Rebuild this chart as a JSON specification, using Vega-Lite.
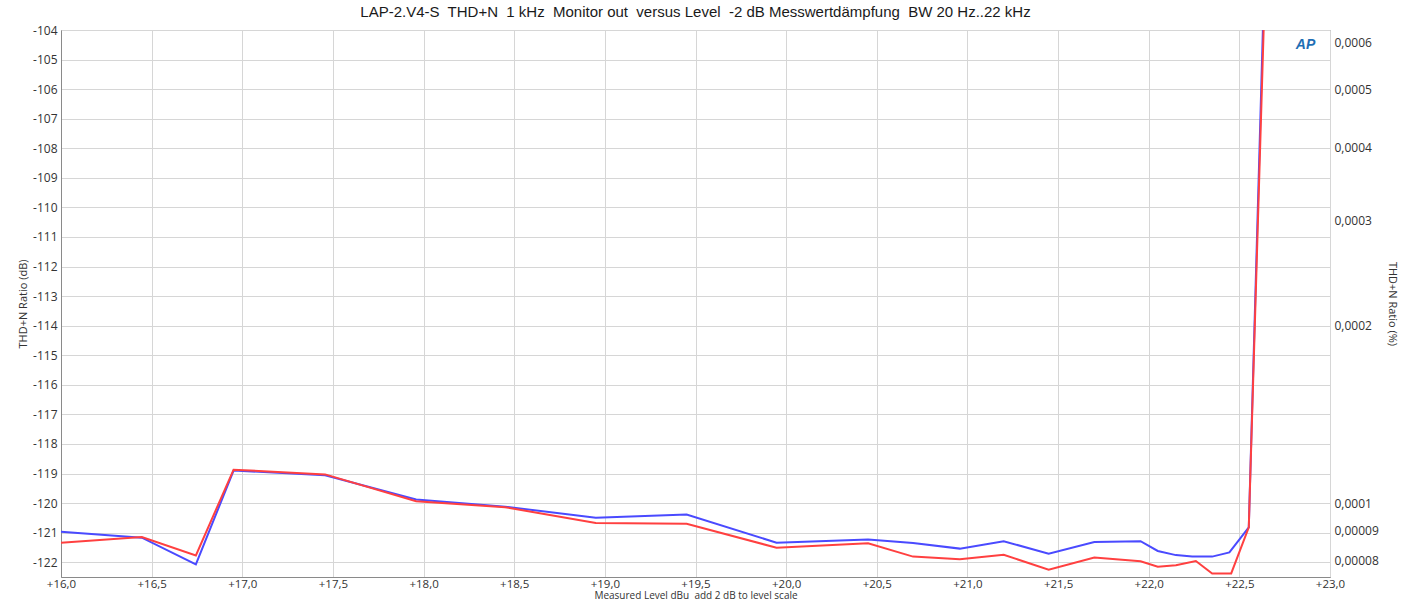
{
  "$schema": "https://vega.github.io/schema/vega-lite/v6.json",
  "autosize": {"type": "none"},
  "padding": {"left": 61, "top": 30, "right": 76, "bottom": 26},
  "width": 1269,
  "height": 547,
  "background": "white",
  "title": {
    "text": "LAP-2.V4-S\u00a0 THD+N\u00a0 1 kHz\u00a0 Monitor out\u00a0 versus Level\u00a0 -2 dB Messwertdämpfung\u00a0 BW 20 Hz..22 kHz",
    "font": "Liberation Sans",
    "fontSize": 15,
    "fontWeight": "normal",
    "color": "#1a1a1a",
    "anchor": "middle",
    "frame": "group",
    "offset": 4
  },
  "config": {
    "view": {"stroke": "#8a8a8a", "strokeWidth": 1},
    "axis": {
      "labelFont": "Open Sans",
      "labelFontSize": 12,
      "labelColor": "#333333",
      "labelOverlap": false,
      "titleFont": "Open Sans",
      "titleFontSize": 11,
      "titleFontWeight": "normal",
      "titleColor": "#333333",
      "ticks": false,
      "domainColor": "#8a8a8a",
      "gridColor": "#d6d6d6",
      "gridWidth": 1
    }
  },
  "datasets": {
    "blue": [
      {"level": 16.0, "db": -120.97},
      {"level": 16.446, "db": -121.17},
      {"level": 16.744, "db": -122.07},
      {"level": 16.952, "db": -118.9},
      {"level": 17.457, "db": -119.06},
      {"level": 17.959, "db": -119.88},
      {"level": 18.45, "db": -120.12},
      {"level": 18.95, "db": -120.5},
      {"level": 19.451, "db": -120.39},
      {"level": 19.947, "db": -121.34},
      {"level": 20.452, "db": -121.23},
      {"level": 20.7, "db": -121.35},
      {"level": 20.958, "db": -121.54},
      {"level": 21.2, "db": -121.29},
      {"level": 21.448, "db": -121.71},
      {"level": 21.7, "db": -121.32},
      {"level": 21.955, "db": -121.29},
      {"level": 22.05, "db": -121.62},
      {"level": 22.15, "db": -121.76},
      {"level": 22.24, "db": -121.81},
      {"level": 22.35, "db": -121.81},
      {"level": 22.445, "db": -121.67},
      {"level": 22.552, "db": -120.82},
      {"level": 22.645, "db": -100.7}
    ],
    "red": [
      {"level": 16.0, "db": -121.34},
      {"level": 16.446, "db": -121.15},
      {"level": 16.744, "db": -121.77},
      {"level": 16.952, "db": -118.87},
      {"level": 17.457, "db": -119.03},
      {"level": 17.959, "db": -119.94},
      {"level": 18.45, "db": -120.14},
      {"level": 18.95, "db": -120.67},
      {"level": 19.451, "db": -120.7},
      {"level": 19.947, "db": -121.51},
      {"level": 20.452, "db": -121.36},
      {"level": 20.7, "db": -121.81},
      {"level": 20.958, "db": -121.9},
      {"level": 21.2, "db": -121.75},
      {"level": 21.448, "db": -122.25},
      {"level": 21.7, "db": -121.84},
      {"level": 21.955, "db": -121.97},
      {"level": 22.05, "db": -122.15},
      {"level": 22.15, "db": -122.1},
      {"level": 22.26, "db": -121.96},
      {"level": 22.35, "db": -122.38},
      {"level": 22.455, "db": -122.38},
      {"level": 22.552, "db": -120.82},
      {"level": 22.65, "db": -100.7}
    ],
    "logo": [{"level": 22.865, "db": -104.5, "label": "AP"}],
    "ratio": [{"pct": 0.0001}]
  },
  "layer": [
    {
      "encoding": {
        "x": {
          "field": "level",
          "type": "quantitative",
          "scale": {"domain": [16, 23], "nice": false, "zero": false},
          "axis": {
            "title": "Measured Level dBu\u00a0 add 2 dB to level scale",
            "titleFontSize": 10,
            "labelFontSize": 11.5,
            "values": [16, 16.5, 17, 17.5, 18, 18.5, 19, 19.5, 20, 20.5, 21, 21.5, 22, 22.5, 23],
            "labelExpr": "'+' + replace(format(datum.value, '.1f'), '.', ',')",
            "labelPadding": 1,
            "titlePadding": 1,
            "labelFlush": false
          }
        },
        "y": {
          "field": "db",
          "type": "quantitative",
          "scale": {"domain": [-122.5, -104], "nice": false, "zero": false},
          "axis": {
            "title": "THD+N Ratio (dB)",
            "values": [-122, -121, -120, -119, -118, -117, -116, -115, -114, -113, -112, -111, -110, -109, -108, -107, -106, -105, -104],
            "labelExpr": "toString(datum.value)",
            "labelPadding": 4,
            "titlePadding": 4,
            "labelFlush": false,
            "labelOverlap": false
          }
        }
      },
      "layer": [
        {
          "data": {"name": "blue"},
          "mark": {"type": "line", "color": "#4a4aff", "strokeWidth": 2, "clip": true}
        },
        {
          "data": {"name": "red"},
          "mark": {"type": "line", "color": "#ff4040", "strokeWidth": 2, "clip": true}
        },
        {
          "data": {"name": "logo"},
          "mark": {"type": "text", "font": "Liberation Sans", "fontSize": 14, "fontStyle": "italic", "fontWeight": "bold", "color": "#1f6fb5"},
          "encoding": {
            "text": {"field": "label"}
          }
        }
      ]
    },
    {
      "data": {"name": "ratio"},
      "mark": {"type": "point", "opacity": 0},
      "encoding": {
        "x": {"datum": 20, "type": "quantitative"},
        "y": {
          "field": "pct",
          "type": "quantitative",
          "scale": {"type": "log", "domain": [0.000074989, 0.000630957], "nice": false, "zero": false},
          "axis": {
            "orient": "right",
            "title": "THD+N Ratio (%)",
            "grid": false,
            "domain": false,
            "values": [0.00008, 0.00009, 0.0001, 0.0002, 0.0003, 0.0004, 0.0005, 0.0006],
            "labelExpr": "replace(toString(datum.value), '.', ',')",
            "labelPadding": 4,
            "titlePadding": 8,
            "labelFlush": false
          }
        }
      }
    }
  ],
  "resolve": {"scale": {"y": "independent"}, "axis": {"y": "independent"}}
}
